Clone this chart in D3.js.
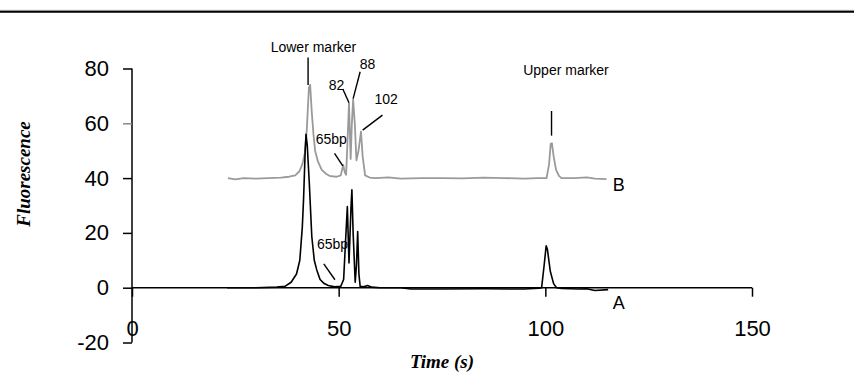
<!DOCTYPE html>
<html>
<head>
<meta charset="utf-8">
<script src="https://cdn.jsdelivr.net/npm/d3@7/dist/d3.min.js"></script>
<style>
  html, body { margin: 0; padding: 0; background: #fff; }
  svg { display: block; }
</style>
</head>
<body>
<svg id="chart" width="854" height="376"></svg>
<script>
// ---- Data ----
const xTicks = [0, 50, 100, 150];
const yTicks = [80, 60, 40, 20, 0, -20];

// Trace B (grey, offset by ~40)
const timeB = [23.2, 25, 27, 30, 33, 36, 38, 39.5, 40.5, 41.2, 41.8, 42.3, 42.8, 43.1, 43.5, 43.9, 44.3, 45, 45.9, 47, 48, 49.5, 50.5, 51.1, 51.5, 51.8, 52.1, 52.5, 52.9, 53.2, 53.5, 53.9, 54.3, 54.8, 55.4, 55.8, 56.4, 57.5, 59, 62, 65, 70, 75, 80, 85, 90, 95, 98, 100.3, 100.9, 101.3, 101.6, 102, 102.6, 103.3, 103.9, 107, 110, 112, 114.8];
const fluorB = [40, 39.5, 40, 39.8, 40, 40.2, 40.5, 41, 42.5, 45, 49, 58, 73, 74, 64, 56, 50, 46, 43, 41.5, 40.7, 40.5, 41, 44.8, 42, 41.2, 52, 67.3, 47, 60, 68.7, 60, 46.5, 50, 57, 48, 41, 40.2, 40, 40.3, 39.8, 40, 40, 39.9, 40.2, 40, 39.8, 40, 40, 45, 52.5, 52.7, 48, 43, 40.8, 40, 40, 40.3, 39.8, 39.6];

// Trace A (black)
const timeA = [23, 30, 35, 37, 38.5, 39.8, 40.6, 41.2, 41.5, 41.9, 42.1, 42.4, 42.9, 43.5, 44.1, 44.7, 45.5, 46.5, 47.5, 49, 50.5, 51.2, 51.6, 52.1, 52.5, 53.0, 53.2, 53.5, 54, 54.3, 54.6, 54.9, 55.2, 56, 57, 58, 60, 65, 67.5, 75, 85, 95, 98.5, 99.1, 99.7, 100.2, 100.5, 101.2, 102, 102.7, 104, 108, 110, 112, 115.2];
const fluorA = [0, 0, 0.2, 0.5, 2, 5, 10, 22, 32, 50, 56, 52, 38, 18.7, 10, 6.5, 3, 1.5, 0.8, 0.3, 0.5, 3, 15, 29.6, 9, 30, 35.7, 20, 2, 8, 20.5, 5, 0.5, 0.3, 0.8, 0.2, 0, 0, -0.5, -0.5, -0.4, -0.5, -0.2, 0, 8, 15.3, 14, 6, 1.5, 0, -0.3, -0.5, -0.4, -1, -0.7];

// Annotation labels
const annoText = ["Lower marker", "82", "88", "102", "65bp", "Upper marker", "65bp"];
const annoT    = [43.9, 49.5, 57.0, 61.5, 48.2, 105.0, 48.5];
const annoV    = [86, 72, 80, 67, 52.5, 77.5, 14];
const leaderT1 = [42.6, 51.0, 55.2, 60.6, 49.0, 101.5, 46.4];
const leaderV1 = [84, 72.5, 78.8, 63, 49, 64.5, 8.7];
const leaderT2 = [42.6, 52.5, 53.5, 55.8, 51.0, 101.5, 49.1];
const leaderV2 = [74, 67.5, 69, 57.5, 44.5, 55.5, 2.9];
const seriesNames = ["B", "A"];
const seriesNameT = [116.3, 116.3];
const seriesNameV = [35.2, -7.6];

// ---- Layout ----
const svg = d3.select("#chart");
const x = d3.scaleLinear().domain([0, 150]).range([132, 752]);
const y = d3.scaleLinear().domain([-20, 80]).range([342.5, 68.5]);

// top border line
svg.append("line").attr("x1", 0).attr("x2", 854).attr("y1", 10.3).attr("y2", 10.3)
  .attr("stroke", "#bbb").attr("stroke-width", 1);
svg.append("line").attr("x1", 0).attr("x2", 854).attr("y1", 11.8).attr("y2", 11.8)
  .attr("stroke", "#000").attr("stroke-width", 2);

// Y axis
const yAxis = d3.axisLeft(y).tickValues(yTicks).tickSize(9).tickPadding(14).tickFormat(d => String(d));
const gy = svg.append("g").attr("transform", `translate(${x(0)},0)`).call(yAxis);
gy.select(".domain").attr("stroke", "#000").attr("stroke-width", 1.5).attr("d", `M0,${y(80)}V${y(-20)}`);
gy.selectAll(".tick line").attr("stroke", d => d === 60 ? "#888" : "#000").attr("stroke-width", 1.5);
gy.selectAll(".tick text").attr("font-family", "Liberation Sans, Arial, sans-serif")
  .attr("font-size", 22).attr("fill", "#000");

// X axis at y=0
const xAxis = d3.axisBottom(x).tickValues(xTicks).tickSize(9).tickPadding(24).tickFormat(d => String(d));
const gx = svg.append("g").attr("transform", `translate(0,${y(0)})`).call(xAxis);
gx.select(".domain").attr("stroke", "#000").attr("stroke-width", 1.5).attr("d", `M${x(0)},0H${x(150)}`);
gx.selectAll(".tick line").attr("stroke", "#000").attr("stroke-width", 1.5);
gx.selectAll(".tick text").attr("font-family", "Liberation Sans, Arial, sans-serif")
  .attr("font-size", 22).attr("fill", "#000");

// Traces
const line = d3.line().x(d => x(d[0])).y(d => y(d[1]));
const dataB = timeB.map((t, i) => [t, fluorB[i]]);
const dataA = timeA.map((t, i) => [t, fluorA[i]]);
svg.append("path").datum(dataB).attr("d", line).attr("fill", "none")
  .attr("stroke", "#9a9a9a").attr("stroke-width", 1.8).attr("stroke-linejoin", "round");
svg.append("path").datum(dataA).attr("d", line).attr("fill", "none")
  .attr("stroke", "#000").attr("stroke-width", 1.6).attr("stroke-linejoin", "round");

// Leader lines and annotation labels
annoText.forEach((t, i) => {
  svg.append("line")
    .attr("x1", x(leaderT1[i])).attr("y1", y(leaderV1[i]))
    .attr("x2", x(leaderT2[i])).attr("y2", y(leaderV2[i]))
    .attr("stroke", "#000").attr("stroke-width", 1.4);
  svg.append("text").attr("x", x(annoT[i])).attr("y", y(annoV[i]))
    .attr("text-anchor", "middle")
    .attr("font-family", "Liberation Sans, Arial, sans-serif")
    .attr("font-size", 14).attr("fill", "#000").text(t);
});

// Series names
seriesNames.forEach((s, i) => {
  svg.append("text").attr("x", x(seriesNameT[i])).attr("y", y(seriesNameV[i]))
    .attr("font-family", "Liberation Sans, Arial, sans-serif")
    .attr("font-size", 18).attr("fill", "#000").text(s);
});

// Axis titles
svg.append("text").attr("transform", "translate(30,174) rotate(-90)")
  .attr("text-anchor", "middle")
  .attr("font-family", "Liberation Serif, Times New Roman, serif")
  .attr("font-weight", "bold").attr("font-style", "italic")
  .attr("font-size", 19).attr("fill", "#000").text("Fluorescence");
svg.append("text").attr("x", 442).attr("y", 368)
  .attr("text-anchor", "middle")
  .attr("font-family", "Liberation Serif, Times New Roman, serif")
  .attr("font-weight", "bold").attr("font-style", "italic")
  .attr("font-size", 19).attr("fill", "#000").text("Time (s)");
</script>
</body>
</html>
